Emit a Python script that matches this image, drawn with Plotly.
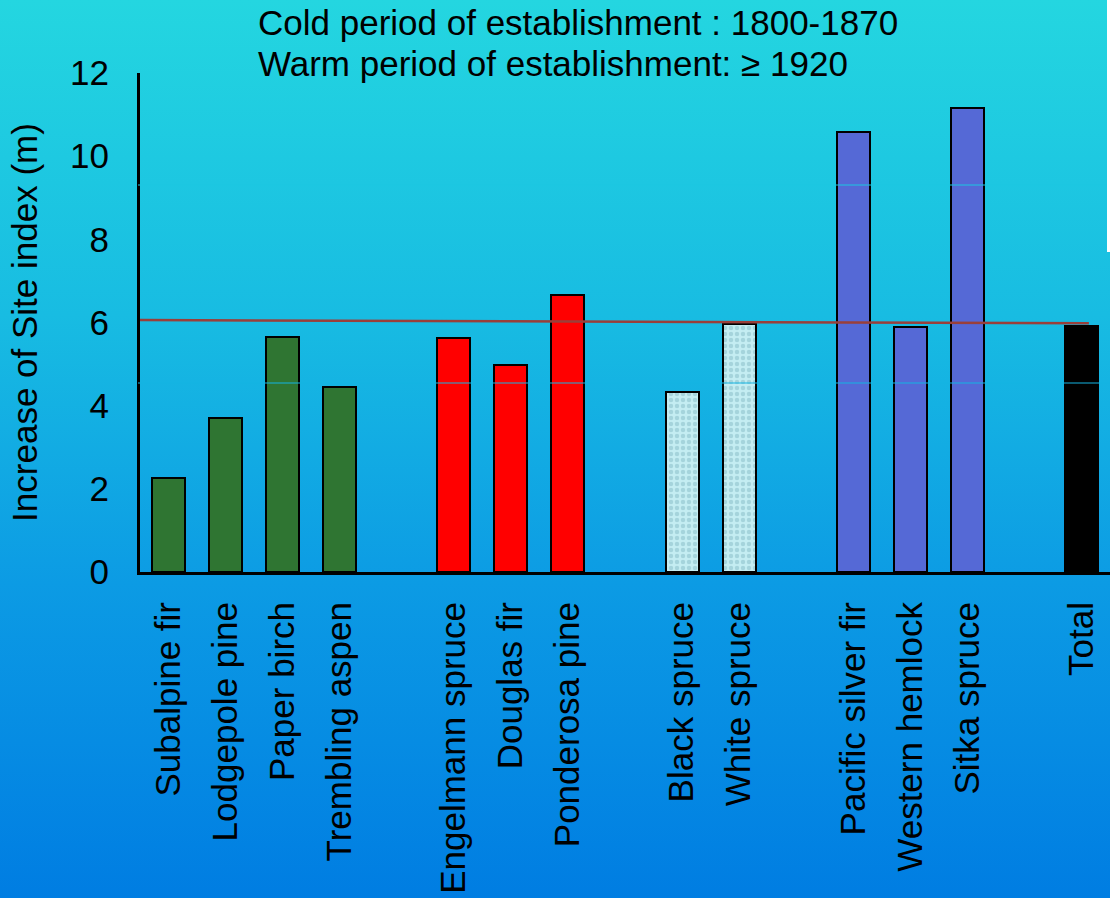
import base64
import plotly.graph_objects as go

# Increase of site index (m) between the cold (1800-1870) and warm (>= 1920)
# establishment periods, by species
species = [
    "Subalpine fir", "Lodgepole pine", "Paper birch", "Trembling aspen",
    "Engelmann spruce", "Douglas fir", "Ponderosa pine",
    "Black spruce", "White spruce",
    "Pacific silver fir", "Western hemlock", "Sitka spruce",
    "Total",
]
site_index_increase = [
    2.25, 3.70, 5.66, 4.46,
    5.62, 4.99, 6.67,
    4.33, 5.97,
    10.58, 5.89, 11.16,
    5.91,
]
species_group = [0, 0, 0, 0, 1, 1, 1, 2, 2, 3, 3, 3, 4]

# reference line across the chart (start and end values, m)
reference_line = [6.06, 5.98]

y_ticks = [0, 2, 4, 6, 8, 10, 12]

group_colors = ["#2f7532", "#ff0000", "#c4edf2", "#5569d6", "#000000"]

# one empty slot between consecutive groups
slots = [i + g for i, g in enumerate(species_group)]
n_slots = slots[-1] + 1

FONT = "Liberation Sans, Arial, sans-serif"
W, H = 1110, 898
ML, MR, MT, MB = 140, 0, 73, 326
plot_w = W - ML - MR
plot_h = H - MT - MB


def px_to_paper_y(py):
    return 1 - (py - MT) / plot_h


fig = go.Figure()

for g, color in enumerate(group_colors):
    xs = [s for s, gg in zip(slots, species_group) if gg == g]
    ys = [v for v, gg in zip(site_index_increase, species_group) if gg == g]
    marker = dict(color=color, line=dict(color="#000000", width=2))
    if g == 2:
        marker["pattern"] = dict(shape=".", fgcolor="#86bcc6", bgcolor=color,
                                 size=6, solidity=0.45)
    fig.add_trace(go.Bar(x=xs, y=ys, width=0.58, marker=marker,
                         showlegend=False, hoverinfo="y"))

# reference line drawn over the bars
fig.add_trace(go.Scatter(
    x=[-0.5, n_slots - 0.87], y=reference_line, mode="lines",
    line=dict(color="#9a3f3a", width=2.5), showlegend=False, hoverinfo="skip",
))

# vertical cyan-to-blue background
svg = (
    '<svg xmlns="http://www.w3.org/2000/svg" width="100" height="100" '
    'preserveAspectRatio="none"><defs><linearGradient id="g" x1="0" y1="0" '
    'x2="0" y2="1">'
    '<stop offset="0" stop-color="rgb(36,214,224)"/>'
    '<stop offset="0.35" stop-color="rgb(24,188,226)"/>'
    '<stop offset="0.65" stop-color="rgb(12,155,228)"/>'
    '<stop offset="1" stop-color="rgb(0,125,226)"/>'
    '</linearGradient></defs><rect width="100" height="100" fill="url(#g)"/></svg>'
)
bg_uri = "data:image/svg+xml;base64," + base64.b64encode(svg.encode()).decode()

fig.add_layout_image(
    source=bg_uri, xref="paper", yref="paper",
    x=-ML / plot_w, y=1 + MT / plot_h,
    sizex=W / plot_w, sizey=H / plot_h,
    xanchor="left", yanchor="top", sizing="stretch", layer="below",
)

# faint horizontal seams across the slide, in the background tone
for py, col in [(185, "rgb(29,199,225)"), (383, "rgb(21,180,226)")]:
    fig.add_shape(type="line", xref="paper", yref="paper",
                  x0=-2 / plot_w, x1=1, y0=px_to_paper_y(py), y1=px_to_paper_y(py),
                  line=dict(color=col, width=1), layer="above")

# white strip at the top right edge
fig.add_shape(type="rect", xref="paper", yref="paper",
              x0=(W - 3 - ML) / plot_w, x1=(W - ML) / plot_w,
              y0=px_to_paper_y(252), y1=1 + MT / plot_h,
              fillcolor="white", line=dict(width=0), layer="above")

fig.add_annotation(
    text="Cold period of establishment : 1800-1870",
    xref="paper", yref="paper", x=(256 - ML) / plot_w, y=px_to_paper_y(1),
    xanchor="left", yanchor="top", showarrow=False,
    font=dict(family=FONT, size=35, color="#000000"),
)
fig.add_annotation(
    text="Warm period of establishment: \u2265 1920",
    xref="paper", yref="paper", x=(256 - ML) / plot_w, y=px_to_paper_y(42),
    xanchor="left", yanchor="top", showarrow=False,
    font=dict(family=FONT, size=35, color="#000000"),
)

fig.update_layout(
    width=W, height=H,
    margin=dict(l=ML, r=MR, t=MT, b=MB, autoexpand=False),
    paper_bgcolor="rgba(0,0,0,0)", plot_bgcolor="rgba(0,0,0,0)",
    bargap=0, font=dict(family=FONT, size=35, color="#000000"),
)
fig.update_xaxes(
    range=[-0.5, n_slots - 0.5], tickmode="array", tickvals=slots,
    ticktext=species, tickangle=-90, ticks="", showgrid=False,
    showline=True, linecolor="#000000", linewidth=3, zeroline=False,
    ticklabelstandoff=13, tickfont=dict(family=FONT, size=35),
    automargin=False,
)
fig.update_yaxes(
    range=[0, 12], tickmode="array", tickvals=y_ticks, ticks="",
    showgrid=False, showline=True, linecolor="#000000", linewidth=3,
    zeroline=False, ticklabelstandoff=21, tickfont=dict(family=FONT, size=35),
    title=dict(text="Increase of Site index (m)", standoff=22,
               font=dict(family=FONT, size=35)),
    automargin=False,
)

fig.write_html("out.html")
